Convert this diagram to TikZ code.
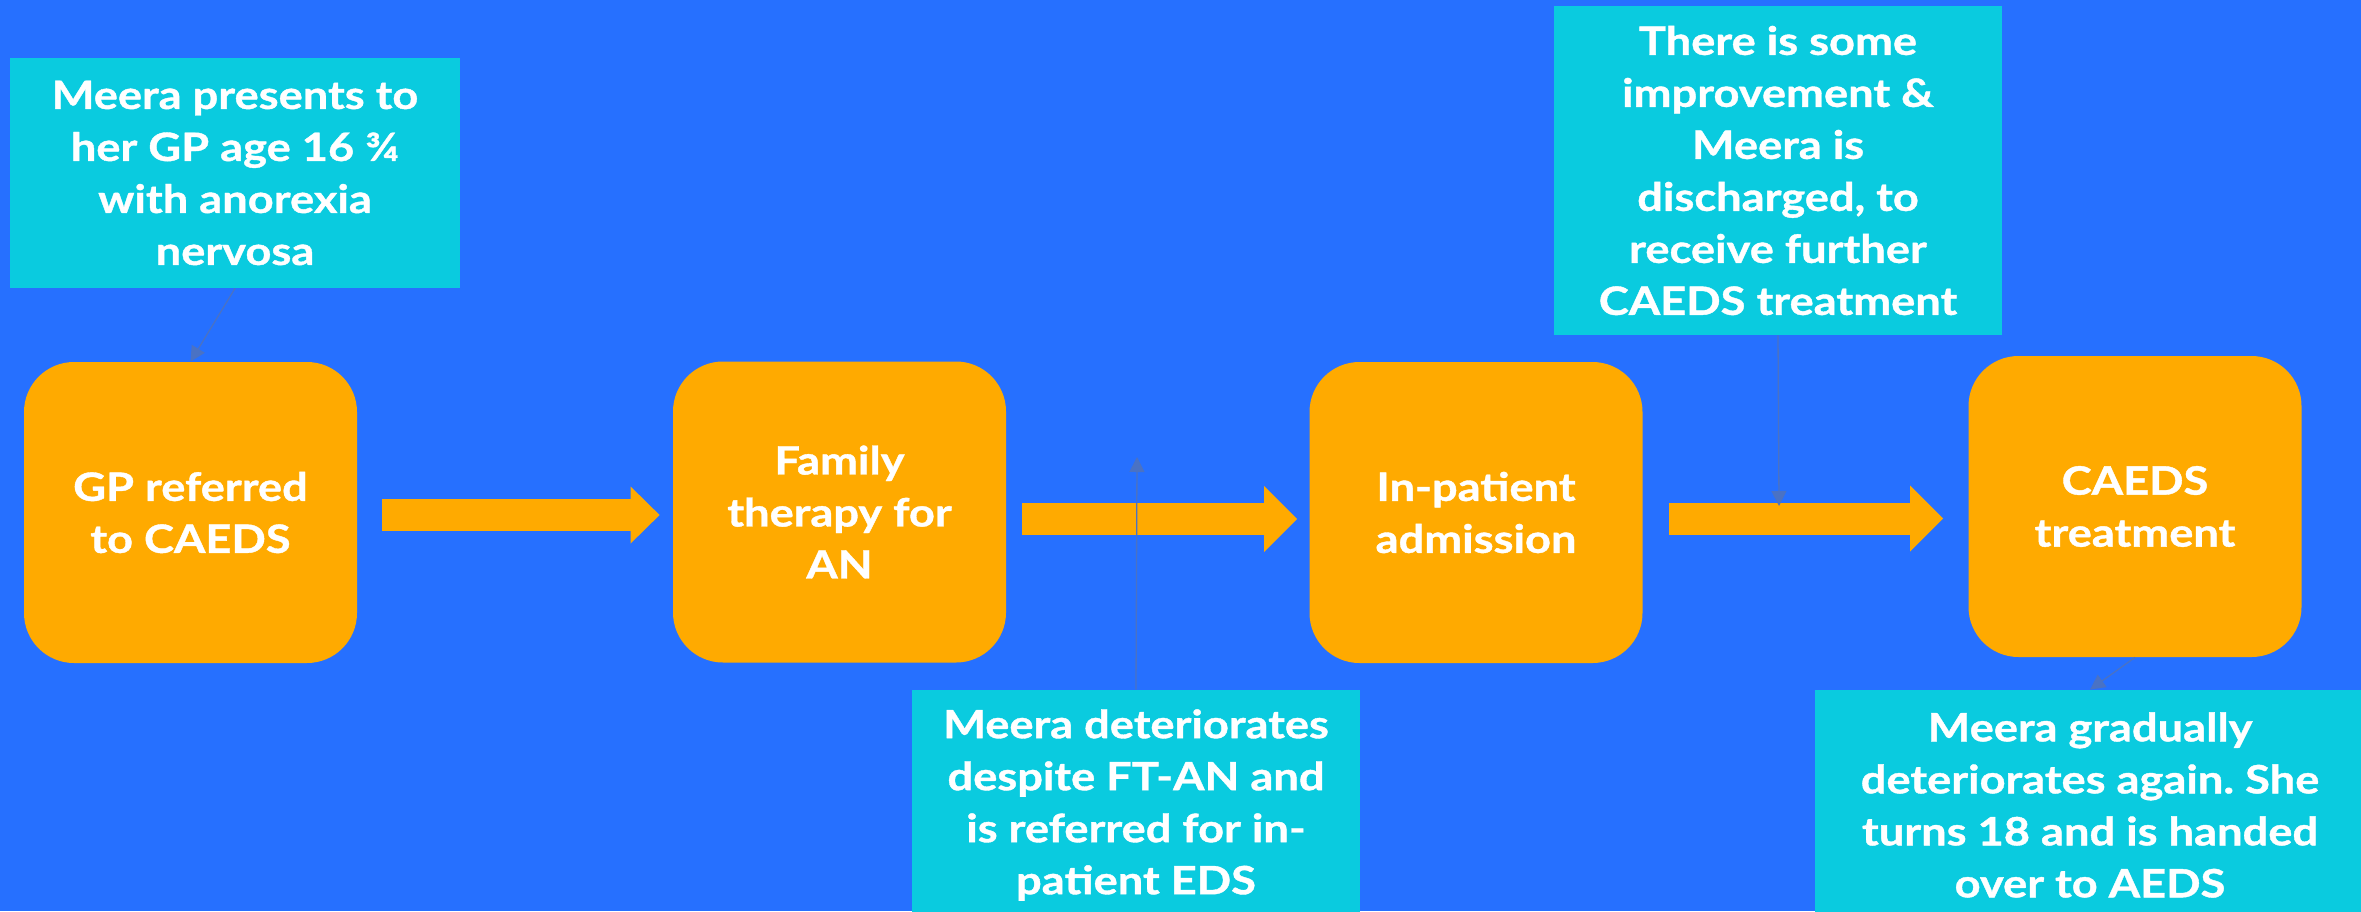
\documentclass[tikz,border=0pt]{standalone}
\usepackage{fontspec}
\setmainfont{Lato}[BoldFeatures={FakeStretch=1.16,FakeBold=1}]
\usetikzlibrary{arrows.meta,positioning,calc}
\definecolor{bgblue}{RGB}{38,112,255}
\definecolor{boxorange}{RGB}{255,170,0}
\definecolor{notecyan}{RGB}{10,203,223}
\definecolor{linkblue}{RGB}{74,114,196}
\frenchspacing

\begin{document}
\begin{tikzpicture}[x=0.5pt,y=-0.5pt,
  stage/.style={fill=boxorange,rounded corners=25pt,minimum width=166.5pt,minimum height=150.5pt,
    inner sep=0pt,text=white,align=center,font=\fontsize{19.5pt}{26pt}\selectfont\bfseries},
  note/.style={fill=notecyan,inner sep=0pt,text=white,align=center,font=\fontsize{19.5pt}{26pt}\selectfont\bfseries},
  flow/.style={draw=boxorange,line width=16pt,-{Triangle[length=16.5pt,width=33pt,line width=0pt]}},
  link/.style={draw=linkblue,line width=0.65pt,-{Triangle[length=7.5pt,width=7.5pt]}}]
\fill[bgblue] (0,0) rectangle (2361,911);
\useasboundingbox (0,0) rectangle (2361,911);
\clip (0,0) rectangle (2361,911);

% stages
\node[stage] (b1) at (190.5,512.5) {GP referred\\to CAEDS};
\node[stage] (b2) at (839.5,512) {Family\\therapy for\\AN};
\node[stage] (b3) at (1476,512.5) {In-patient\\admission};
\node[stage] (b4) at (2135,506.5) {CAEDS\\treatment};

% notes
\node[note,minimum width=225pt,minimum height=115pt] (n1) at (235,173) {Meera presents to\\her GP age 16 ¾\\with anorexia\\nervosa};
\node[note,minimum width=224pt,minimum height=115pt] (n2) at (1136,805) {Meera deteriorates\\despite FT-AN and\\is referred for in-\\patient EDS};
\node[note,minimum width=224pt,minimum height=164.5pt] (n3) at (1778,170.5) {There is some\\improvement \&\\Meera is\\discharged, to\\receive further\\CAEDS treatment};
\node[note,minimum width=275pt,minimum height=115pt] (n4) at (2090,805) {Meera gradually\\deteriorates again. She\\turns 18 and is handed\\over to AEDS};

% flow arrows
\coordinate (f1) at ([yshift=-1.25pt]b1.east);
\coordinate (f2) at ([yshift=-3.5pt]b2.east);
\coordinate (f3) at ([yshift=-3pt]b3.east);
\draw[flow,shorten <=12.5pt,shorten >=6.5pt,-{Triangle[length=14.5pt,width=28.5pt,line width=0pt]}] (f1) -- (f1 -| b2.west);
\draw[flow,shorten <=8pt,shorten >=6pt] (f2) -- (f2 -| b3.west);
\draw[flow,shorten <=13pt,shorten >=12.5pt] (f3) -- (f3 -| b4.west);

% links
\coordinate (t2) at (1137,457);
\coordinate (t3) at (1779,506);
\draw[link] (n1.south) -- (b1.north);
\draw[link] (n2.north) -- (t2);
\draw[link] (n3.south) -- (t3);
\draw[link] (b4.south) -- (n4.north);
\end{tikzpicture}
\end{document}
